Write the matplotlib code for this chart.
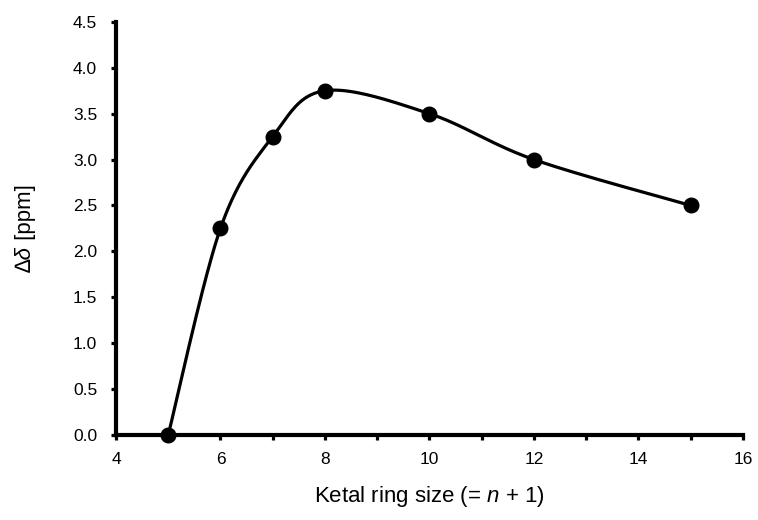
import numpy as np
import matplotlib
matplotlib.use("Agg")
import matplotlib.pyplot as plt
from matplotlib.ticker import MultipleLocator, FormatStrFormatter

plt.rcParams['font.family'] = ['Liberation Sans', 'DejaVu Sans']
plt.rcParams['mathtext.fontset'] = 'custom'
plt.rcParams['mathtext.rm'] = 'Liberation Sans'
plt.rcParams['mathtext.it'] = 'Liberation Sans:italic'

ring_size = [5, 6, 7, 8, 10, 12, 15]
delta_ppm = [0.0, 2.25, 3.25, 3.75, 3.5, 3.0, 2.5]

def excel_smooth(xs, ys, n=40):
    P = np.column_stack([xs, ys]).astype(float)
    out = []
    for i in range(len(P) - 1):
        p0 = P[i - 1] if i > 0 else P[i]
        p1 = P[i]
        p2 = P[i + 1]
        p3 = P[i + 2] if i + 2 < len(P) else P[i + 1]
        c1 = p1 + (p2 - p0) / 6.0
        c2 = p2 - (p3 - p1) / 6.0
        t = np.linspace(0, 1, n)[:, None]
        seg = ((1 - t) ** 3) * p1 + 3 * ((1 - t) ** 2) * t * c1 + 3 * (1 - t) * t ** 2 * c2 + t ** 3 * p2
        out.append(seg if i == 0 else seg[1:])
    arr = np.vstack(out)
    return arr[:, 0], arr[:, 1]

W, H = 758, 520
fig = plt.figure(figsize=(W / 100, H / 100), dpi=100)
ax = fig.add_axes([0.153, 0.1635, 0.827, 0.7945])

sx, sy = excel_smooth(ring_size, delta_ppm)
ax.plot(sx, sy, color='black', lw=2.3, solid_capstyle='round', zorder=3, clip_on=False)
ax.plot(ring_size, delta_ppm, 'o', color='black', markersize=10.5, zorder=4, clip_on=False)

ax.set_xlim(4, 16)
ax.set_ylim(0, 4.5)
ax.xaxis.set_major_locator(MultipleLocator(2))
ax.xaxis.set_minor_locator(MultipleLocator(1))
ax.yaxis.set_major_locator(MultipleLocator(0.5))
ax.yaxis.set_major_formatter(FormatStrFormatter('%.1f'))

for s in ['top', 'right']:
    ax.spines[s].set_visible(False)
for s in ['left', 'bottom']:
    ax.spines[s].set_linewidth(3.0)

ax.tick_params(axis='both', which='both', direction='out', width=2.3, length=3.5, labelsize=12.5)
ax.tick_params(axis='x', pad=9)
ax.tick_params(axis='y', pad=10)

ax.set_xlabel('Ketal ring size (= $\\mathit{n}$ + 1)', fontsize=16, labelpad=12)

# y label: italic "Δδ" followed by upright " [ppm]", rotated
fig.canvas.draw()
renderer = fig.canvas.get_renderer()
bx = 31 / W
cy = 1 - 228 / H
t1 = fig.text(bx, 0, '∆δ', rotation=90, rotation_mode='anchor', ha='left', va='baseline',
              fontsize=16, style='italic')
t2 = fig.text(bx, 0, ' [ppm]', rotation=90, rotation_mode='anchor', ha='left', va='baseline',
              fontsize=16)
h1 = t1.get_window_extent(renderer).height
h2 = t2.get_window_extent(renderer).height
y0 = cy * H - (h1 + h2) / 2
t1.set_y(y0 / H)
t2.set_y((y0 + h1) / H)

fig.savefig('out.png', dpi=100)
